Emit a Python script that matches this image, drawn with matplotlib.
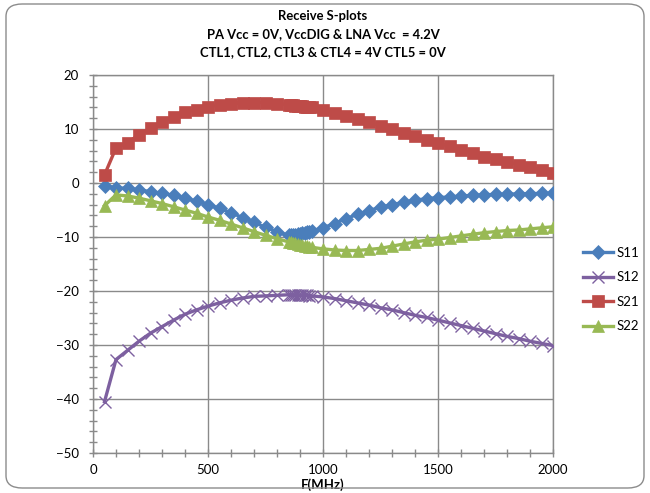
import matplotlib
matplotlib.use("Agg")
import matplotlib.pyplot as plt
from matplotlib.patches import FancyBboxPatch
from matplotlib.ticker import MultipleLocator

plt.rcParams['font.family'] = ['Lato', 'DejaVu Sans']

freq = [50, 100, 150, 200, 250, 300, 350, 400, 450, 500, 550, 600, 650, 700, 750, 800,
        850, 860, 870, 880, 890, 900, 910, 920, 930, 940, 950,
        1000, 1050, 1100, 1150, 1200, 1250, 1300, 1350, 1400, 1450, 1500,
        1550, 1600, 1650, 1700, 1750, 1800, 1850, 1900, 1950, 2000]

s11 = [-0.5, -0.9, -1.0, -1.3, -1.6, -1.9, -2.3, -2.8, -3.4, -4.0, -4.7, -5.5, -6.4, -7.3, -8.2, -9.0,
       -9.7, -9.65, -9.6, -9.55, -9.5, -9.4, -9.3, -9.2, -9.1, -9.0, -8.9,
       -8.3, -7.5, -6.6, -5.8, -5.1, -4.5, -4.0, -3.6, -3.2, -2.9, -2.7,
       -2.6, -2.4, -2.3, -2.2, -2.1, -2.1, -2.0, -2.0, -1.9, -1.9]

s12 = [-40.5, -32.7, -31.0, -29.3, -27.8, -26.6, -25.4, -24.3, -23.5, -22.8, -22.2, -21.7, -21.3, -21.0, -20.9, -20.8,
       -20.7, -20.7, -20.7, -20.7, -20.7, -20.75, -20.75, -20.8, -20.8, -20.85, -20.9,
       -21.1, -21.4, -21.8, -22.2, -22.6, -23.1, -23.5, -24.0, -24.5, -24.9, -25.4,
       -25.9, -26.4, -26.9, -27.4, -27.9, -28.4, -28.8, -29.3, -29.7, -30.1]

s21 = [1.5, 6.5, 7.5, 8.9, 10.2, 11.3, 12.3, 13.1, 13.6, 14.1, 14.5, 14.7, 14.9, 14.9, 14.9, 14.7,
       14.5, 14.45, 14.4, 14.35, 14.3, 14.25, 14.2, 14.15, 14.1, 14.05, 14.0,
       13.5, 13.0, 12.5, 11.9, 11.3, 10.6, 10.0, 9.3, 8.7, 8.0, 7.4,
       6.8, 6.1, 5.5, 4.9, 4.4, 3.9, 3.4, 2.9, 2.4, 1.9]

s22 = [-4.2, -2.2, -2.4, -2.8, -3.3, -3.8, -4.4, -5.0, -5.6, -6.3, -6.9, -7.6, -8.3, -9.0, -9.7, -10.3,
       -10.9, -11.0, -11.1, -11.2, -11.3, -11.4, -11.5, -11.6, -11.7, -11.8, -11.9,
       -12.2, -12.4, -12.5, -12.5, -12.3, -12.1, -11.7, -11.3, -10.9, -10.6, -10.4,
       -10.1, -9.8, -9.5, -9.2, -9.0, -8.8, -8.7, -8.5, -8.3, -8.1]

title_lines = ["Receive S-plots",
               "PA Vcc = 0V, VccDIG & LNA Vcc  = 4.2V",
               "CTL1, CTL2, CTL3 & CTL4 = 4V CTL5 = 0V"]

W, H = 650, 493
fig = plt.figure(figsize=(W / 100, H / 100), dpi=100)
fig.patch.set_facecolor('white')

# chart-area rounded border
border = FancyBboxPatch((6 / W, 5 / H), (W - 12) / W, (H - 9) / H,
                        boxstyle="round,pad=0,rounding_size=0.025",
                        transform=fig.transFigure, facecolor='none',
                        edgecolor='#8c8c8c', linewidth=1.0)
fig.patches.append(border)

ax = fig.add_axes([93 / W, 1 - 453 / H, 460 / W, 378 / H])

grid_c = '#8a8a8a'
series = [
    ("S11", s11, '#4A7EBB', 'D', 6.8),
    ("S12", s12, '#7D60A0', 'x', 8.0),
    ("S21", s21, '#BE4B48', 's', 8.0),
    ("S22", s22, '#98B954', '^', 8.0),
]
for name, ys, c, m, ms in series:
    ax.plot(freq, ys, color=c, lw=2.4, marker=m, ms=ms, mec=c, mfc=c,
            mew=1.0 if m == 'x' else 0.5, label=name, zorder=3)

ax.set_xlim(0, 2000)
ax.set_ylim(-50, 20)
ax.xaxis.set_major_locator(MultipleLocator(500))
ax.xaxis.set_minor_locator(MultipleLocator(100))
ax.yaxis.set_major_locator(MultipleLocator(10))
ax.yaxis.set_minor_locator(MultipleLocator(2))
ax.grid(True, which='major', color=grid_c, lw=1.0, zorder=0)
ax.set_axisbelow(True)
for sp in ax.spines.values():
    sp.set_color(grid_c)
    sp.set_linewidth(1.0)
ax.tick_params(which='both', direction='inout', color=grid_c, labelsize=9.5,
               labelcolor='black', length=6, width=1.0)
ax.tick_params(axis='x', which='major', pad=5)
ax.tick_params(axis='y', which='major', pad=7)

ax.set_xlabel("F(MHz)", fontsize=9.5, fontweight='bold', va='center')
ax.xaxis.set_label_coords(0.5, (453 - 485) / 378)

ys_t = [16, 34, 52]
for t, yp in zip(title_lines, ys_t):
    fig.text(323 / W, 1 - yp / H, t, ha='center', va='center',
             fontsize=9.4, fontweight='bold')

leg = ax.legend(loc='center left', bbox_to_anchor=(1.065, (453 - 289.5) / 378),
                frameon=False, fontsize=9.5, handlelength=2.3, handletextpad=0.25,
                labelspacing=0.95, numpoints=1, borderaxespad=0, borderpad=0)

fig.savefig("out.png", dpi=100, facecolor='white')
